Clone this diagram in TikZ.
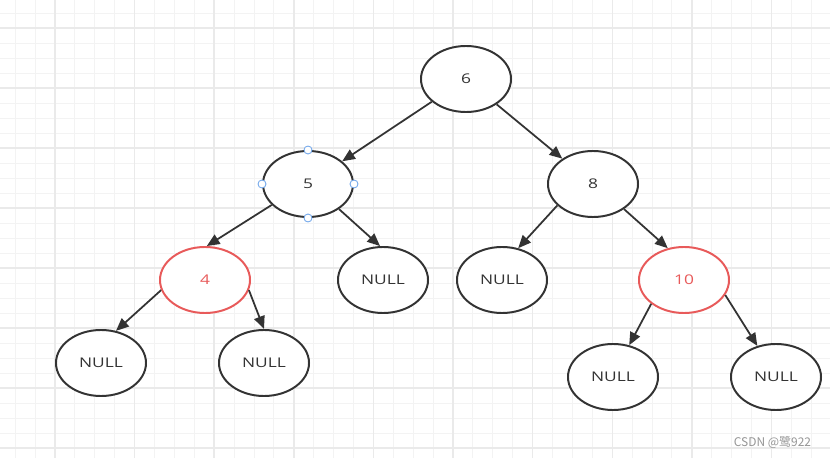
\documentclass[tikz,border=0pt]{standalone}
\usepackage{fontspec}
\setmainfont{Open Sans}
\newfontfamily\nodefont[FakeStretch=1.3]{Open Sans}
\newfontfamily\cjkfont{Noto Sans CJK SC}
\usetikzlibrary{shapes.geometric,arrows.meta}
\definecolor{edge}{RGB}{51,51,51}
\definecolor{hot}{RGB}{232,90,90}
\definecolor{gridthin}{RGB}{243,243,243}
\definecolor{gridthick}{RGB}{234,234,234}
\definecolor{handlec}{RGB}{110,165,235}
\definecolor{wmark}{RGB}{150,150,150}

\begin{document}
\begin{tikzpicture}[x=0.025cm, y=-0.025cm, every node/.style={font=\nodefont\fontsize{9.5}{10}\selectfont},
    tnode/.style={draw=edge, ellipse, line width=1.4pt, minimum width=2.25cm, minimum height=1.65cm, inner sep=0pt, text=edge, fill=white},
    rednode/.style={tnode, draw=hot, text=hot},
    handle/.style={circle, draw=handlec, fill=white, line width=0.6pt, minimum size=0.2cm, inner sep=0pt},
    link/.style={-{Triangle[length=3.2mm,width=2.7mm]}, line width=1.25pt, edge}]
        \useasboundingbox (0,0) rectangle (830,458);
        \fill[white] (0,0) rectangle (830,458);
        % grid
        \foreach \i in {0,...,40} \draw[gridthin, line width=0.7pt] ({15.2+19.9*\i},0) -- ({15.2+19.9*\i},458);
        \foreach \j in {0,...,29} \draw[gridthin, line width=0.7pt] (0,{13+15*\j}) -- (830,{13+15*\j});
        \foreach \i in {0,...,9} \draw[gridthick, line width=1pt] ({55+79.6*\i},0) -- ({55+79.6*\i},458);
        \foreach \j in {0,...,7} \draw[gridthick, line width=1pt] (0,{28+60*\j}) -- (830,{28+60*\j});

        \node[tnode] (six) at (466,79) {6};
        \node[tnode] (five) at (308,184) {5};
        \node[tnode] (eight) at (593,184) {8};
        \node[rednode] (four) at (205,280) {4};
        \node[tnode] (null5) at (383,280) {NULL};
        \node[tnode] (null8) at (502,280) {NULL};
        \node[rednode] (ten) at (684,280) {10};
        \node[tnode] (null4l) at (101,363) {NULL};
        \node[tnode] (null4r) at (264,363) {NULL};
        \node[tnode] (null10l) at (613,377) {NULL};
        \node[tnode] (null10r) at (776,377) {NULL};

        \foreach \a in {north,south,east,west} \node[handle] (h-\a) at (five.\a) {};

        \draw[link] (six) -- (five);
        \draw[link] (six) -- (eight);
        \draw[link] (five.210) -- (four.87);
        \draw[link] (five.-39) -- (null5.95);
        \draw[link] (eight.211) -- (null8.63);
        \draw[link] (eight.-39) -- (ten.117);
        \draw[link] (four.193) -- (null4l.65);
        \draw[link] (four.-13) -- (null4r.90);
        \draw[link] (ten.216) -- (null10l.63);
        \draw[link] (ten.-20) -- (null10r.121);

        \node[font=\cjkfont\fontsize{8.5}{10}\selectfont, text=wmark, anchor=east] (mark) at (816,442) {CSDN @鹭922};
    \end{tikzpicture}
\end{document}
